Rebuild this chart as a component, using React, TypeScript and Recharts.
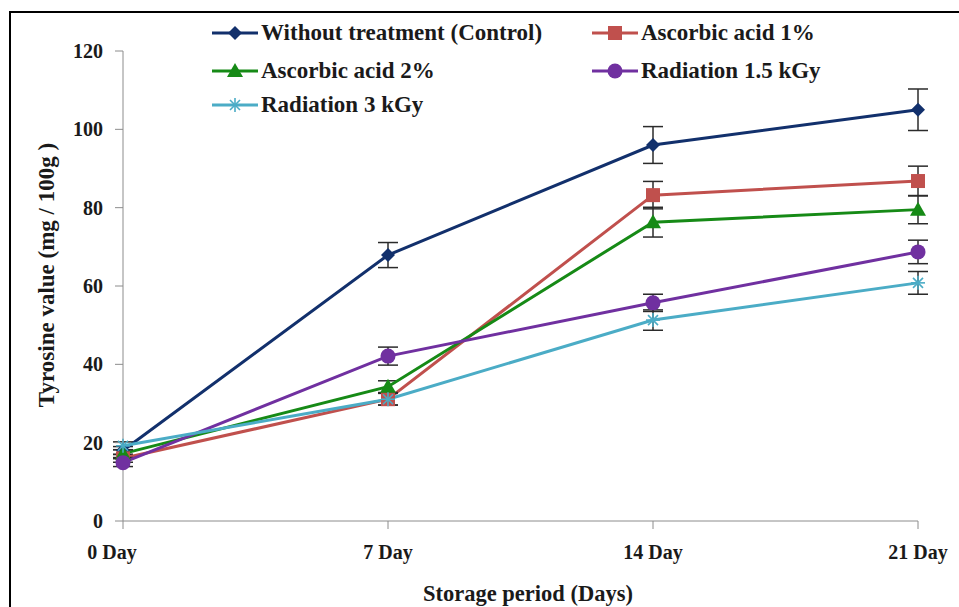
import { LineChart, Line, XAxis, YAxis, ErrorBar } from 'recharts';

const DAYS = ['0 Day', '7 Day', '14 Day', '21 Day'];
const Y_TICKS = [0, 20, 40, 60, 80, 100, 120];

const control = [18, 67.9, 96, 105];
const controlErr = [1, 3.2, 4.7, 5.3];
const ascorbic1 = [16, 31.1, 83.2, 86.8];
const ascorbic1Err = [1, 1.5, 3.5, 3.8];
const ascorbic2 = [17.2, 34.3, 76.3, 79.5];
const ascorbic2Err = [1, 1.5, 3.8, 3.6];
const rad15 = [14.9, 42.1, 55.7, 68.7];
const rad15Err = [1, 2.3, 2.2, 3];
const rad3 = [19.2, 31.1, 51.3, 60.8];
const rad3Err = [1, 1.5, 2.6, 2.9];

const FONT = '"Liberation Serif", "Times New Roman", serif';
const TEXT = '#1a1a1a';

type Shape = 'diamond' | 'square' | 'triangle' | 'circle' | 'star';

const SERIES: { key: string; name: string; color: string; shape: Shape; values: number[]; err: number[] }[] = [
  { key: 'control', name: 'Without treatment (Control)', color: '#12306c', shape: 'diamond', values: control, err: controlErr },
  { key: 'asc1', name: 'Ascorbic acid 1%', color: '#c0504d', shape: 'square', values: ascorbic1, err: ascorbic1Err },
  { key: 'asc2', name: 'Ascorbic acid 2%', color: '#168a16', shape: 'triangle', values: ascorbic2, err: ascorbic2Err },
  { key: 'rad15', name: 'Radiation 1.5 kGy', color: '#7030a0', shape: 'circle', values: rad15, err: rad15Err },
  { key: 'rad3', name: 'Radiation 3 kGy', color: '#4bacc6', shape: 'star', values: rad3, err: rad3Err },
];

const data = DAYS.map((day, i) => {
  const row: any = { day };
  SERIES.forEach(s => {
    row[s.key] = s.values[i];
    row[s.key + 'Err'] = s.err[i];
  });
  return row;
});

function Marker({ cx, cy, shape, color }: { cx: number; cy: number; shape: Shape; color: string }) {
  if (shape === 'diamond') {
    const r = 7;
    return <polygon points={`${cx},${cy - r} ${cx + r},${cy} ${cx},${cy + r} ${cx - r},${cy}`} fill={color} />;
  }
  if (shape === 'square') {
    return <rect x={cx - 7} y={cy - 7} width={14} height={14} fill={color} />;
  }
  if (shape === 'triangle') {
    return <polygon points={`${cx},${cy - 8} ${cx + 8},${cy + 6} ${cx - 8},${cy + 6}`} fill={color} />;
  }
  if (shape === 'circle') {
    return <circle cx={cx} cy={cy} r={7.5} fill={color} />;
  }
  const r = 7;
  return (
    <g stroke={color} strokeWidth={1.6}>
      <line x1={cx - r} y1={cy} x2={cx + r} y2={cy} />
      <line x1={cx} y1={cy - r} x2={cx} y2={cy + r} />
      <line x1={cx - 5} y1={cy - 5} x2={cx + 5} y2={cy + 5} />
      <line x1={cx - 5} y1={cy + 5} x2={cx + 5} y2={cy - 5} />
    </g>
  );
}

function LegendItem({ name, color, shape, left, top }: { name: string; color: string; shape: Shape; left: number; top: number }) {
  return (
    <div style={{ position: 'absolute', left, top, display: 'flex', alignItems: 'center', whiteSpace: 'nowrap' }}>
      <svg width={46} height={20} style={{ marginRight: 3 }}>
        <line x1={0} y1={10} x2={46} y2={10} stroke={color} strokeWidth={3} />
        <Marker cx={23} cy={10} shape={shape} color={color} />
      </svg>
      <span style={{ fontFamily: FONT, fontWeight: 'bold', fontSize: 23, color: TEXT }}>{name}</span>
    </div>
  );
}

const LEGEND_POS = [
  { left: 212, top: 20 },
  { left: 592, top: 20 },
  { left: 212, top: 58 },
  { left: 592, top: 58 },
  { left: 212, top: 92 },
];

function DayTick({ x, y, payload, index }: any) {
  const shift = index === 0 ? -11 : 0;
  return (
    <text x={x + shift} y={y + 18} textAnchor="middle" fontFamily={FONT} fontWeight="bold" fontSize={20} fill={TEXT}>
      {payload.value}
    </text>
  );
}

export default function App() {
  const tickStyle = { fontSize: 20, fontWeight: 'bold', fill: TEXT, fontFamily: FONT };
  return (
    <div style={{ position: 'absolute', left: 0, top: 0, width: 959, height: 607, background: '#fff', overflow: 'hidden' }}>
      <div style={{ position: 'absolute', left: 9, top: 11, width: 960, height: 600, borderLeft: '2px solid #000', borderTop: '2px solid #000' }} />
      <LineChart width={959} height={607} data={data} margin={{ top: 51, right: 41, bottom: 26, left: 0 }}>
        <XAxis
          dataKey="day"
          height={60}
          tick={<DayTick />}
          tickSize={8}
          tickMargin={12}
          stroke="#8c8c8c"
          interval={0}
          label={({ viewBox }: any) => (
            <text x={528} y={viewBox.y + 80} textAnchor="middle" fontFamily={FONT} fontWeight="bold" fontSize={22.5} fill={TEXT}>
              Storage period (Days)
            </text>
          )}
        />
        <YAxis
          width={123}
          domain={[0, 120]}
          ticks={Y_TICKS}
          tick={tickStyle}
          tickSize={8}
          tickMargin={12}
          stroke="#8c8c8c"
          label={() => (
            <text x={54} y={275} transform="rotate(-90 54 275)" textAnchor="middle" fontFamily={FONT} fontWeight="bold" fontSize={23} fill={TEXT}>
              Tyrosine value (mg / 100g )
            </text>
          )}
        />
        {SERIES.map(s => (
          <Line
            key={s.key}
            dataKey={s.key}
            name={s.name}
            stroke={s.color}
            strokeWidth={3}
            isAnimationActive={false}
            dot={(p: any) => <Marker key={`${s.key}-${p.index}`} cx={p.cx} cy={p.cy} shape={s.shape} color={s.color} />}
            activeDot={false}
          >
            <ErrorBar dataKey={s.key + 'Err'} width={10} stroke="#2b2b2b" strokeWidth={1.5} direction="y" isAnimationActive={false} />
          </Line>
        ))}
      </LineChart>
      {SERIES.map((s, i) => (
        <LegendItem key={s.key} name={s.name} color={s.color} shape={s.shape} left={LEGEND_POS[i].left} top={LEGEND_POS[i].top} />
      ))}
    </div>
  );
}
